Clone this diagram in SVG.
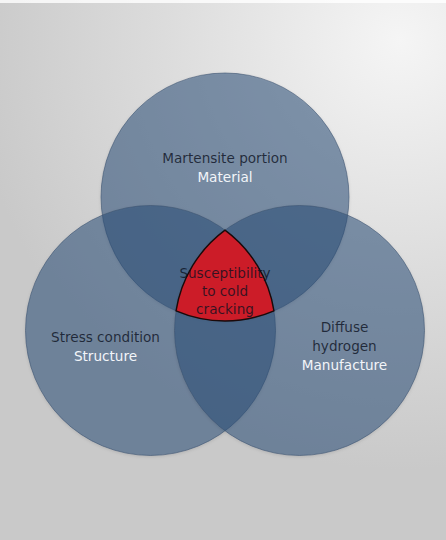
<svg xmlns="http://www.w3.org/2000/svg" width="446" height="540" viewBox="0 0 446 540">
  <defs>
    <radialGradient id="bg" gradientUnits="userSpaceOnUse" cx="400" cy="40" r="430">
      <stop offset="0" stop-color="#f5f5f5"/>
      <stop offset="0.55" stop-color="#dcdcdc"/>
      <stop offset="1" stop-color="#c9c9c9"/>
    </radialGradient>
    <filter id="sh" x="-10%" y="-10%" width="120%" height="120%">
      <feDropShadow dx="0" dy="1" stdDeviation="1.5" flood-color="#000" flood-opacity="0.18"/>
    </filter>
  </defs>
  <style>
    .circ { fill: #274d79; fill-opacity: 0.52; stroke: #3d5470; stroke-opacity: 0.6; stroke-width: 1; }
    .dark { font-family: "DejaVu Sans", Verdana, sans-serif; font-size: 13.6px; fill: #0b1020; fill-opacity: 0.78; text-anchor: middle; }
    .light { font-family: "DejaVu Sans", Verdana, sans-serif; font-size: 13.6px; fill: #f2f5f9; text-anchor: middle; }
    .core { fill: #cc1c28; stroke: #1a0a0a; stroke-width: 1.4; stroke-linejoin: round; }
  </style>
  <rect x="0" y="0" width="446" height="540" fill="url(#bg)"/>
  <rect x="0" y="0" width="446" height="3" fill="#ffffff" opacity="0.8"/>

  <g id="material" filter="url(#sh)">
    <circle class="circ" cx="225" cy="197" r="124"/>
  </g>
  <g id="structure" filter="url(#sh)">
    <circle class="circ" cx="150.5" cy="330.5" r="125"/>
  </g>
  <g id="manufacture" filter="url(#sh)">
    <circle class="circ" cx="299.5" cy="330.5" r="125"/>
  </g>
  <g id="cold-cracking">
    <path class="core" d="M 225 230.13 A 125 125 0 0 1 273.96 310.93 A 124 124 0 0 1 176.04 310.93 A 125 125 0 0 1 225 230.13 Z"/>
  </g>

  <g id="labels-material">
    <text class="dark" x="225" y="162.5">Martensite portion</text>
    <text class="light" x="225" y="181.5">Material</text>
  </g>
  <g id="labels-structure">
    <text class="dark" x="105.5" y="341.5">Stress condition</text>
    <text class="light" x="105.5" y="361">Structure</text>
  </g>
  <g id="labels-manufacture">
    <text class="dark" x="344.5" y="331.5">Diffuse</text>
    <text class="dark" x="344.5" y="350.5">hydrogen</text>
    <text class="light" x="344.5" y="369.5">Manufacture</text>
  </g>
  <g id="labels-core">
    <text class="dark" x="225" y="278">Susceptibility</text>
    <text class="dark" x="225" y="296">to cold</text>
    <text class="dark" x="225" y="314">cracking</text>
  </g>
  <g id="connectors"/>
</svg>
